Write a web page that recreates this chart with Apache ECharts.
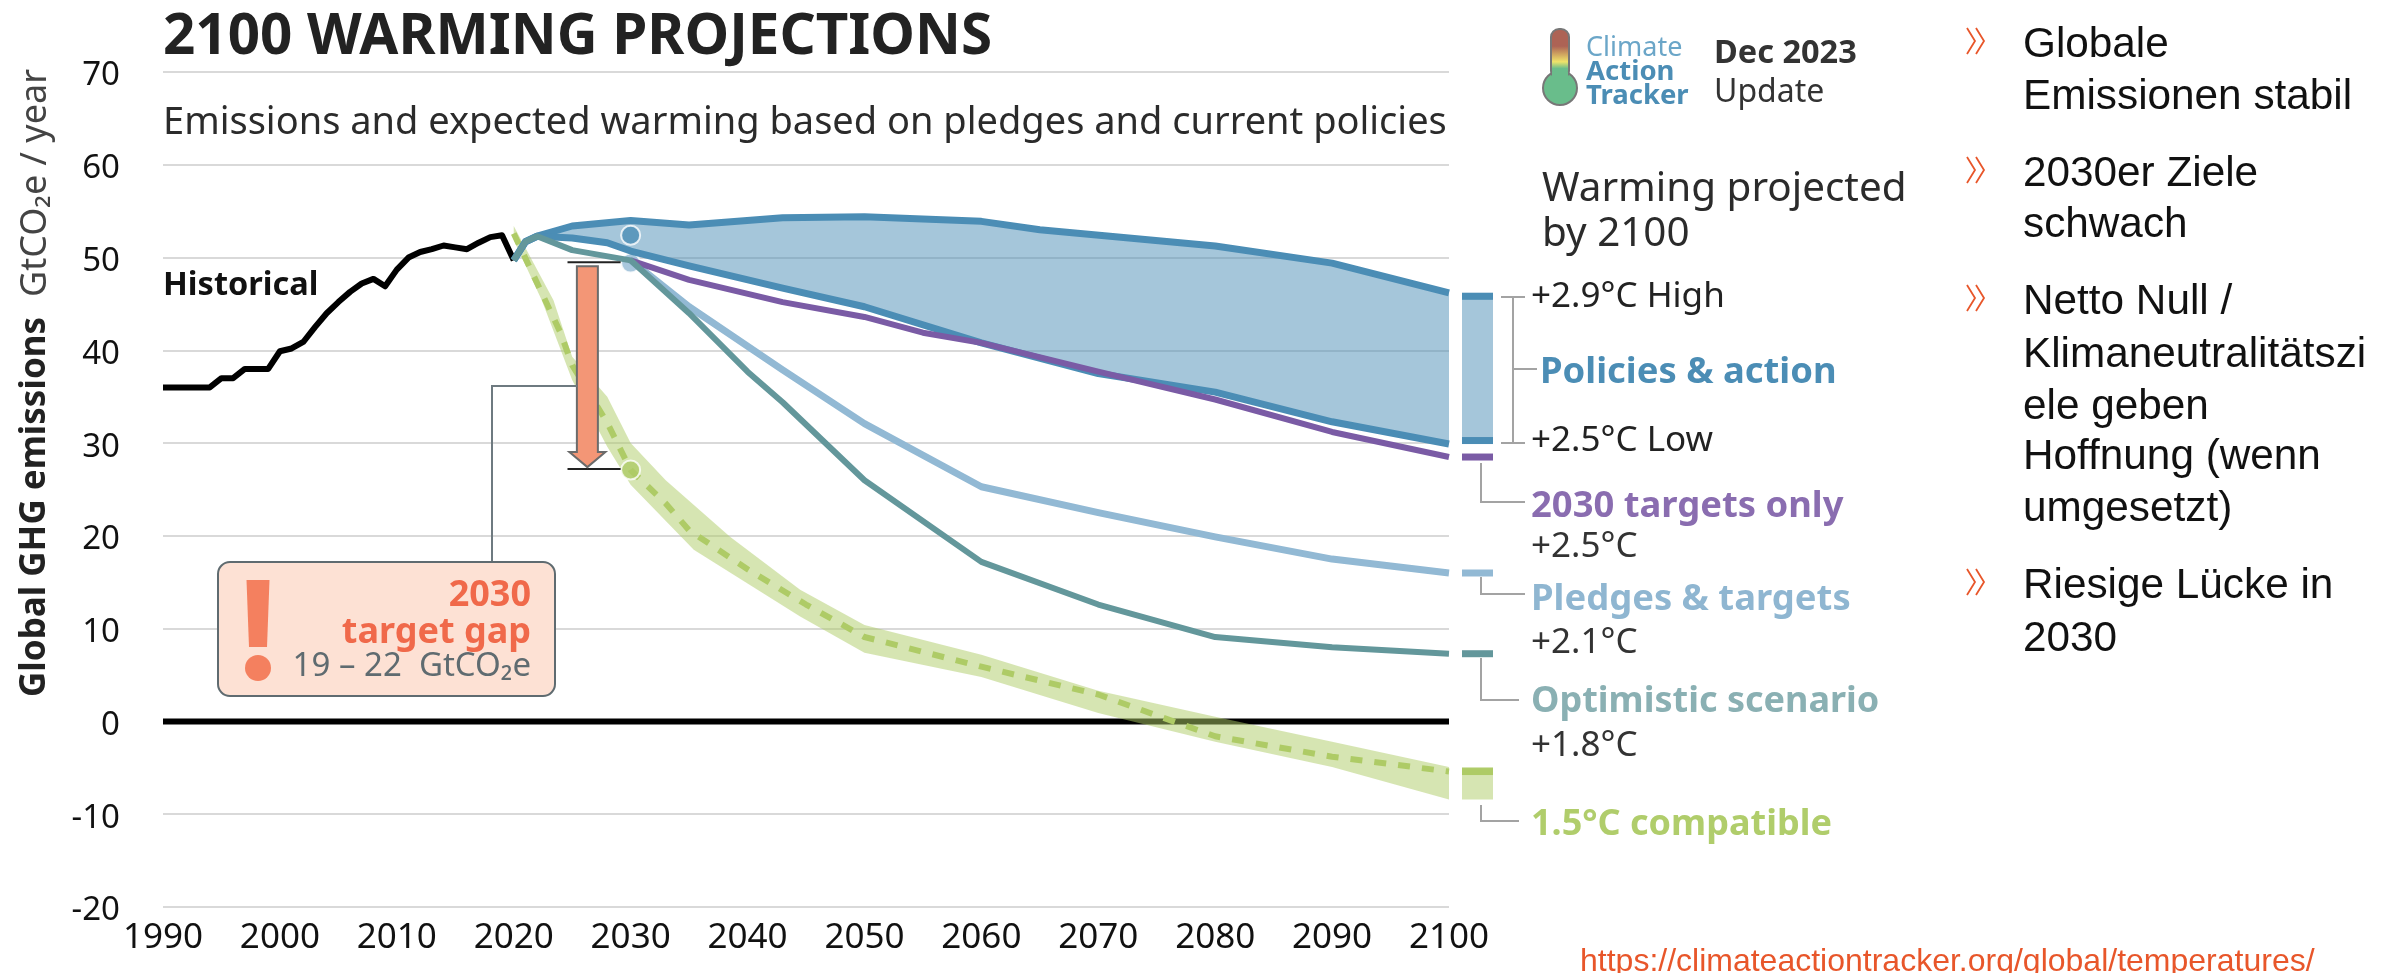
<!DOCTYPE html>
<html>
	<head>
		<meta charset="UTF-8">
		<title>2100 warming projections</title>
		<style>
			html, body { margin: 0; padding: 0; background: #fff; overflow: hidden; }
			#main { width: 2397px; height: 973px; }
		</style>
	</head>
	<body>
		<div id="main"></div>
		<script src="https://cdn.jsdelivr.net/npm/echarts@6/dist/echarts.min.js"></script>
		<script type="text/javascript">
		// values, GtCO2e / year
		var yearTicks = [1990, 2000, 2010, 2020, 2030, 2040, 2050, 2060, 2070, 2080, 2090, 2100];
		var valueTicks = [-20, -10, 0, 10, 20, 30, 40, 50, 60, 70];

		var histYears = [1990, 1991, 1992, 1993, 1994, 1995, 1996, 1997, 1998, 1999, 2000, 2001, 2002, 2003, 2004, 2005, 2006, 2007, 2008, 2009, 2010, 2011, 2012, 2013, 2014, 2015, 2016, 2017, 2018, 2019, 2020];
		var histValues = [36, 36, 36, 36, 36, 37, 37, 38, 38, 38, 39.9, 40.2, 40.9, 42.5, 44, 45.2, 46.3, 47.2, 47.7, 46.9, 48.7, 50, 50.6, 50.9, 51.3, 51.1, 50.9, 51.6, 52.2, 52.4, 49.7];

		var policyHighYears = [2020, 2021, 2022, 2025, 2030, 2035, 2043, 2050, 2060, 2065, 2080, 2090, 2100];
		var policyHighValues = [49.7, 51.7, 52.3, 53.4, 54.0, 53.5, 54.3, 54.4, 53.9, 53.0, 51.25, 49.4, 46.2];

		var policyLowYears = [2020, 2021, 2022, 2025, 2028, 2030, 2035, 2043, 2050, 2060, 2070, 2080, 2090, 2100];
		var policyLowValues = [49.7, 51.7, 52.3, 52.1, 51.6, 50.7, 49.1, 46.7, 44.7, 40.8, 37.5, 35.5, 32.3, 29.9];

		var targetsYears = [2030, 2035, 2043, 2050, 2055, 2060, 2070, 2080, 2090, 2100];
		var targetsValues = [49.7, 47.6, 45.2, 43.6, 41.9, 40.8, 37.7, 34.7, 31.2, 28.5];

		var pledgesYears = [2030, 2035, 2043, 2050, 2060, 2070, 2080, 2090, 2100];
		var pledgesValues = [49.7, 44.7, 37.9, 32.1, 25.3, 22.5, 19.9, 17.5, 16];

		var optimisticYears = [2020, 2021, 2022, 2025, 2030, 2035, 2040, 2043, 2050, 2060, 2070, 2080, 2090, 2100];
		var optimisticValues = [49.7, 51.7, 52.3, 50.8, 49.7, 44, 37.7, 34.4, 26, 17.2, 12.6, 9.1, 8, 7.3];

		var compatYears = [2020, 2024, 2025, 2028, 2030, 2033, 2035, 2040, 2045, 2050, 2060, 2070, 2080, 2090, 2100];
		var compatValues = [52.6, 41.9, 38.4, 32.2, 27.1, 23.5, 20.6, 16.4, 12.6, 9.1, 5.9, 2.9, -1.6, -3.8, -5.4];

		var compatHighYears = [2020, 2023.4, 2025, 2028, 2030, 2033, 2038.5, 2044.5, 2050, 2060, 2070, 2080, 2090, 2100];
		var compatHighValues = [53.4, 45.4, 39.3, 35, 30, 26, 19.9, 14.2, 10.4, 7.2, 3.3, 0.5, -2.2, -4.9];

		var compatLowYears = [2020, 2022.4, 2025, 2028, 2030, 2035.4, 2044.5, 2050, 2060, 2070, 2080, 2090, 2100];
		var compatLowValues = [51.9, 45.4, 36.8, 29.6, 25.5, 18.5, 11.3, 7.4, 4.8, 0.9, -2.2, -4.9, -8.4];

		var dots2030Years = [2030, 2030, 2030];
		var dots2030Values = [52.4, 49.4, 27.1];

		var gapYear = 2026.3;
		var gapCapYears = [2024.6, 2030];
		var gapTop = 49.5;
		var gapBottom = 27.2;

		var bulletLines = [
			['Globale', 'Emissionen stabil'],
			['2030er Ziele', 'schwach'],
			['Netto Null /', 'Klimaneutralitätszi', 'ele geben', 'Hoffnung (wenn', 'umgesetzt)'],
			['Riesige Lücke in', '2030']
		];

		var cBlue = '#4b8db5', cBlueFill = 'rgba(75,141,181,0.5)', cPurple = '#7a5ba5', cPledge = '#92b9d4';
		var cTeal = '#63979b', cGreen = '#aecb66', cGreenFill = 'rgba(174,203,102,0.5)', cGrey = '#a3a3a3', cOrange = '#e8562a';
		var uiFont = '"Noto Sans"';

		function zip(xs, ys) {
			var out = [];
			for (var i = 0; i < xs.length; i++) out.push([xs[i], ys[i]]);
			return out;
		}

		function line(name, xs, ys, color, width, z, dash) {
			return {
				name: name, type: 'line', data: zip(xs, ys), symbol: 'none', smooth: false, z: z, silent: true,
				lineStyle: { color: color, width: width, type: dash || 'solid', cap: 'butt', join: 'round' }
			};
		}

		// band between an upper and a lower edge
		function band(name, upX, upY, loX, loY, color, z) {
			var up = zip(upX, upY), lo = zip(loX, loY).reverse();
			return {
				name: name, type: 'custom', data: [[2100, 0]], z: z, silent: true, clip: true,
				renderItem: function (params, api) {
					var pts = up.concat(lo).map(function (p) { return api.coord(p); });
					return { type: 'polygon', shape: { points: pts }, style: { fill: color } };
				}
			};
		}

		// little swatches right of the plot, positioned from the 2100 values
		function caps(api) {
			function y(v) { return api.coord([2100, v])[1]; }
			var x0 = api.coord([2100, 0])[0] + 13, w = 31, out = [];
			function bar(yTop, h, color) {
				out.push({ type: 'rect', shape: { x: x0, y: yTop, width: w, height: h }, style: { fill: color } });
			}
			var hi = policyHighValues[policyHighValues.length - 1], lo = policyLowValues[policyLowValues.length - 1];
			bar(y(hi), y(lo) - y(hi), cBlueFill);
			bar(y(hi), 7, cBlue);
			bar(y(lo) - 7, 7, cBlue);
			bar(y(targetsValues[targetsValues.length - 1]) - 3.5, 7, cPurple);
			bar(y(pledgesValues[pledgesValues.length - 1]) - 3.5, 7, cPledge);
			bar(y(optimisticValues[optimisticValues.length - 1]) - 3.5, 7, cTeal);
			var gh = y(compatHighValues[compatHighValues.length - 1]);
			bar(gh, y(compatLowValues[compatLowValues.length - 1]) - gh, cGreenFill);
			bar(y(compatValues[compatValues.length - 1]) - 3.5, 7, cGreen);
			return { type: 'group', children: out };
		}

		// the gap arrow with its two end lines
		function gapArrow(api) {
			var top = api.coord([gapYear, gapTop]), bot = api.coord([gapYear, gapBottom]);
			var capL = api.coord([gapCapYears[0], 0])[0], capR = api.coord([gapCapYears[1], 0])[0] - 10;
			var x = top[0], yA = top[1] + 4, yT = bot[1] - 2, yS = yT - 15;
			return {
				type: 'group',
				children: [
					{ type: 'line', shape: { x1: capL, y1: top[1], x2: capR, y2: top[1] }, style: { stroke: '#222', lineWidth: 2 } },
					{ type: 'line', shape: { x1: capL, y1: bot[1], x2: capR, y2: bot[1] }, style: { stroke: '#222', lineWidth: 2 } },
					{
						type: 'polygon',
						shape: { points: [[x - 10.5, yA], [x + 10.5, yA], [x + 10.5, yS], [x + 18, yS], [x, yT], [x - 18, yS], [x - 10.5, yS]] },
						style: { fill: '#f39676', stroke: '#6b6b6b', lineWidth: 2 }
					}
				]
			};
		}

		function t(text, x, y, size, color, weight, align, family, extra) {
			// glyphs sit a bit high with verticalAlign middle, push them back
			var drop = size * 0.12;
			var el = {
				type: 'text', x: extra ? x + drop : x, y: extra ? y : y + drop, z: 20, silent: true,
				style: {
					text: text, fontSize: size, fontWeight: weight || 'normal', fontFamily: family || uiFont,
					fill: color || '#222', align: align || 'left', verticalAlign: 'middle'
				}
			};
			for (var k in (extra || {})) el[k] = extra[k];
			return el;
		}

		function leader(points, color, width) {
			return { type: 'polyline', z: 15, silent: true, shape: { points: points }, style: { stroke: color || cGrey, lineWidth: width || 2, fill: null } };
		}

		var graphics = [
			t('2100 WARMING PROJECTIONS', 163, 31, 56.5, '#222', 'bold'),
			t('Emissions and expected warming based on pledges and current policies', 163, 119, 38, '#2b2b2b'),

			// y axis title, two weights
			t('Global GHG emissions', 31, 697, 35, '#222', 'bold', 'left', uiFont, { rotation: Math.PI / 2 }),
			t('GtCO₂e / year', 31, 297, 36, '#444', 'normal', 'left', uiFont, { rotation: Math.PI / 2 }),

			t('Historical', 163, 282, 32.5, '#111', 'bold'),

			// target gap box
			leader([[492, 562], [492, 386], [577, 386]], '#6e7a80'),
			{ type: 'rect', z: 15, silent: true, shape: { x: 218, y: 562, width: 337, height: 134, r: 12 }, style: { fill: '#fde1d4', stroke: '#5f6b70', lineWidth: 2 } },
			{ type: 'polygon', z: 16, silent: true, shape: { points: [[246.5, 580], [269.5, 580], [267, 647], [249, 647]] }, style: { fill: '#f4805f' } },
			{ type: 'circle', z: 16, silent: true, shape: { cx: 258, cy: 668, r: 13 }, style: { fill: '#f4805f' } },
			t('2030', 531, 591, 36, '#f0694a', 'bold', 'right'),
			t('target gap', 531, 628, 36, '#f0694a', 'bold', 'right'),
			t('19 – 22  GtCO₂e', 531, 663, 33, '#5f6b70', 'normal', 'right'),

			// logo
			{ type: 'circle', z: 16, silent: true, shape: { cx: 1560, cy: 88, r: 17 }, style: { fill: '#69bd8b', stroke: '#777', lineWidth: 2 } },
			{
				type: 'rect', z: 16, silent: true, shape: { x: 1551, y: 29, width: 18, height: 50, r: 8 },
				style: {
					stroke: '#777', lineWidth: 2,
					fill: { type: 'linear', x: 0, y: 0, x2: 0, y2: 1, colorStops: [{ offset: 0, color: '#ad6355' }, { offset: 0.35, color: '#ad6355' }, { offset: 0.65, color: '#efe36a' }, { offset: 0.78, color: '#69bd8b' }, { offset: 1, color: '#69bd8b' }] }
				}
			},
			{ type: 'rect', z: 17, silent: true, shape: { x: 1552, y: 72, width: 16, height: 12 }, style: { fill: '#69bd8b' } },
			t('Climate', 1586, 45, 27, '#6ba6c8'),
			t('Action', 1586, 69, 27.5, cBlue, 'bold'),
			t('Tracker', 1586, 93, 27.5, cBlue, 'bold'),
			t('Dec 2023', 1714, 50, 32.5, '#333', 'bold'),
			t('Update', 1714, 89, 32, '#333'),

			t('Warming projected', 1542, 185, 40.4, '#2b2b2b'),
			t('by 2100', 1542, 230, 40.4, '#2b2b2b'),

			// scenario labels and leaders
			leader([[1501, 297], [1525, 297]]),
			leader([[1501, 443], [1525, 443]]),
			leader([[1513, 297], [1513, 443]]),
			leader([[1513, 369], [1537, 369]]),
			t('+2.9°C High', 1531, 293, 35, '#222'),
			t('Policies & action', 1540, 368, 36.4, cBlue, 'bold'),
			t('+2.5°C Low', 1531, 437, 35, '#222'),

			leader([[1481, 463], [1481, 502], [1525, 502]]),
			t('2030 targets only', 1531, 502, 36.4, '#8a6db0', 'bold'),
			t('+2.5°C', 1531, 543, 35, '#333'),

			leader([[1481, 577], [1481, 594], [1525, 594]]),
			t('Pledges & targets', 1531, 595, 36.4, '#8fb6d1', 'bold'),
			t('+2.1°C', 1531, 639, 35, '#333'),

			leader([[1481, 658], [1481, 700], [1519, 700]]),
			t('Optimistic scenario', 1531, 697, 36, '#8ab0b3', 'bold'),
			t('+1.8°C', 1531, 742, 35, '#333'),

			leader([[1481, 805], [1481, 821], [1519, 821]]),
			t('1.5°C compatible', 1531, 820, 36, '#b0cd6b', 'bold'),

			t('https://climateactiontracker.org/global/temperatures/', 1580, 958, 32, cOrange, 'normal', 'left', '"Liberation Sans"')
		];

		// bullets on the right, the text lines are kept in bulletLines
		var bulletY = [[40, 92], [169, 220], [297, 350, 402, 452, 504], [581, 634]];
		bulletLines.forEach(function (rows, i) {
			var cy = bulletY[i][0] + 1;
			[1967, 1976].forEach(function (cx) {
				graphics.push(leader([[cx, cy - 13], [cx + 8, cy], [cx, cy + 13]], cOrange, 1.8));
			});
			rows.forEach(function (row, j) {
				graphics.push(t(row, 2023, bulletY[i][j], 42.3, '#111', 'normal', 'left', '"Liberation Sans"'));
			});
		});

		var myChart = echarts.init(document.getElementById('main'), null, { renderer: 'canvas' });
		var option = {
			animation: false,
			backgroundColor: '#fff',
			grid: { left: 163, right: 2397 - 1449, top: 72, bottom: 973 - 907, containLabel: false },
			xAxis: {
				type: 'value', min: yearTicks[0], max: yearTicks[yearTicks.length - 1], interval: 10,
				axisLine: { show: false }, axisTick: { show: false }, splitLine: { show: false },
				axisLabel: { fontSize: 35, fontFamily: uiFont, color: '#111', margin: 14, showMinLabel: true, showMaxLabel: true, hideOverlap: false,
					formatter: function (v) { return String(v); } }
			},
			yAxis: {
				type: 'value', min: valueTicks[0], max: valueTicks[valueTicks.length - 1], interval: 10,
				axisLine: { show: false }, axisTick: { show: false },
				splitLine: { show: true, lineStyle: { color: '#d9d9d9', width: 2 } },
				axisLabel: {
					margin: 43,
					formatter: function (v) { return '{n|' + v + '}'; },
					rich: { n: { fontSize: 33, fontFamily: uiFont, color: '#111', padding: [8, 0, 0, 0] } }
				}
			},
			series: [
				line('zero', [yearTicks[0], yearTicks[yearTicks.length - 1]], [0, 0], '#000', 6, 2),
				band('policyBand', policyHighYears, policyHighValues, policyLowYears, policyLowValues, cBlueFill, 3),
				band('compatBand', compatHighYears, compatHighValues, compatLowYears, compatLowValues, cGreenFill, 3),
				line('Historical', histYears, histValues, '#000', 6, 4),
				line('1.5C compatible', compatYears, compatValues, cGreen, 6, 4, [12, 12]),
				{
					name: 'dots', type: 'scatter', data: zip(dots2030Years, dots2030Values), symbolSize: 19, z: 4, silent: true,
					itemStyle: {
						borderColor: '#fff', borderWidth: 2,
						color: function (p) { return [cBlue, cPledge, cGreen][p.dataIndex]; }
					}
				},
				line('Policies high', policyHighYears, policyHighValues, cBlue, 7, 5),
				line('Policies low', policyLowYears, policyLowValues, cBlue, 7, 5),
				line('Pledges', pledgesYears, pledgesValues, cPledge, 7, 5),
				line('2030 targets', targetsYears, targetsValues, cPurple, 6, 6),
				line('Optimistic', optimisticYears, optimisticValues, cTeal, 6, 7),
				{ name: 'caps', type: 'custom', data: [[2100, 0]], z: 8, silent: true, clip: false,
					renderItem: function (params, api) { return caps(api); } },
				{ name: 'gap', type: 'custom', data: [[gapYear, gapTop]], z: 9, silent: true, clip: false,
					renderItem: function (params, api) { return gapArrow(api); } }
			],
			graphic: graphics
		};
		myChart.setOption(option);
		</script>
	</body>
</html>
